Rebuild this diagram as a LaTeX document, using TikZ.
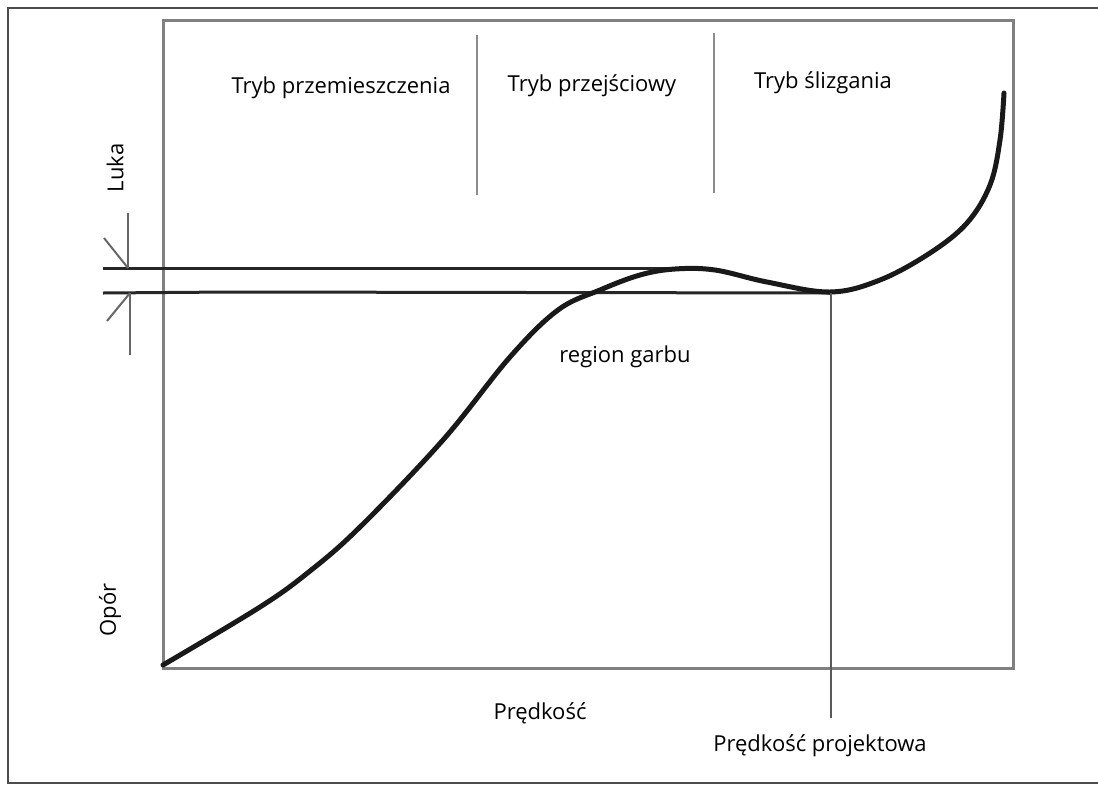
\documentclass[tikz,border=0pt]{standalone}
\usepackage{fontspec}
\setmainfont{Open Sans}
\begin{document}
\begin{tikzpicture}[x=1pt,y=-1pt,
    frame/.style={draw=black!70,line width=2.5pt},
    box/.style={draw=black!50,line width=3pt},
    divider/.style={draw=black!45,line width=2pt},
    gapline/.style={draw=black!85,line width=3pt},
    tick/.style={draw=black!60,line width=2pt},
    curve/.style={draw=black!90,line width=5pt,line cap=round},
    label/.style={font=\fontsize{22}{26}\selectfont,inner sep=0pt}]
    \useasboundingbox (0,0) rectangle (1098,785);
    \draw[frame] (1098,8) -- (8,8) -- (8,783) -- (1098,783);
    \draw[box] (163,20) rectangle (1013,668);
    % regions
    \draw[divider] (477,35) -- (477,195);
    \draw[divider] (714,33) -- (714,193);
    \node[label] (disp) at (341,88) {Tryb przemieszczenia};
    \node[label] (trans) at (592,86) {Tryb przejściowy};
    \node[label] (plan) at (823,83) {Tryb ślizgania};
    % gap
    \coordinate (gapa) at (103,268);
    \coordinate (gapb) at (103,293);
    \draw[gapline] (gapa) -- (700,268);
    \draw[gapline] (gapb) -- (230,292) -- (830,293);
    \draw[tick] (128,213) -- (128,268);
    \draw[tick] (104,238) -- (128,268);
    \draw[tick] (130,293) -- (130,355);
    \draw[tick] (107,321) -- (130,293);
    \node[label,rotate=90] (gap) at (115,168) {Luka};
    % resistance curve
    \draw[curve] plot[smooth,tension=0.6] coordinates {(163,665) (260,607)
        (310,571) (360,527) (443,440) (510,357) (558,310) (600,290) (640,275)
        (675,269) (715,270) (767,282) (830,292) (880,280) (930,253) (967,223)
        (990,185) (1000,140) (1004,93)};
    \draw[divider,draw=black!65] (831,293) -- (831,718);
    \node[label] (hump) at (625,357) {region garbu};
    \node[label] (speed) at (540,713) {Prędkość};
    \node[label] (design) at (820,746) {Prędkość projektowa};
    \node[label,rotate=90] (res) at (110,610) {Opór};
\end{tikzpicture}
\end{document}
